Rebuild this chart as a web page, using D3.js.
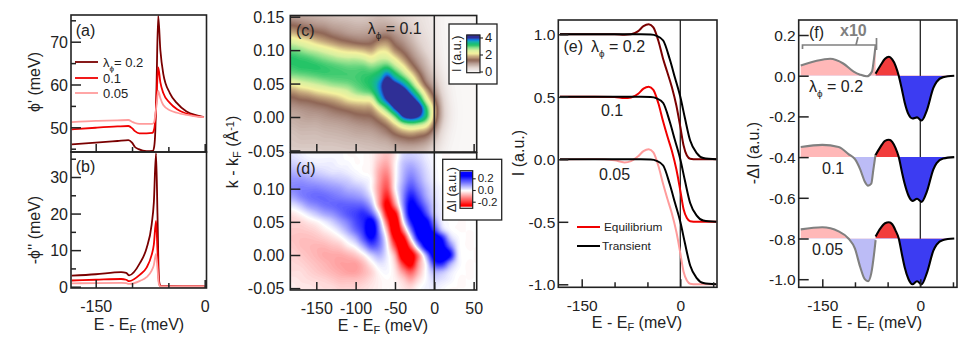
<!DOCTYPE html>
<html><head><meta charset="utf-8">
<script src="https://cdn.jsdelivr.net/npm/d3@7"></script>
<style>
html,body{margin:0;padding:0;background:#fff}
svg{display:block}
text{font-family:"Liberation Sans",Arial,sans-serif}
</style></head><body>
<svg id="c" width="969" height="346"></svg>
<script>
// ---------- data ----------
const lambdaLabels = ["0.2","0.1","0.05"];
const panelLabels = ["(a)","(b)","(c)","(d)","(e)","(f)"];

// (a) phi'
const aE02 = [-183,-150,-120,-105,-100,-96,-91,-80,-71.5,-69.5,-68,-66.5,-64,-61,-57,-48,-38.5,-25,-11,-1];
const a02  = [46,46.4,46.8,47,46.4,45.4,44.9,44.4,44.5,45.5,49,58,76,68,62.5,58,55.7,53.7,52.8,52.4];
const aE01 = [-183,-150,-120,-105,-100,-96,-90,-80,-72,-69.5,-67.5,-66,-64,-61,-57,-48,-38,-25,-11,-1];
const a01  = [49.5,49.9,50.2,50.3,49.8,49.1,48.6,48.6,48.7,49.6,53,58,64,60.5,58,55.7,54.2,53.2,52.6,52.4];
const aE005= [-183,-150,-120,-105,-100,-96,-90,-80,-72,-69.5,-67.5,-66,-64,-61,-57,-48,-38,-25,-11,-1];
const a005 = [51.2,51.5,51.6,51.7,51.3,51,50.8,50.8,50.8,51.3,53.5,55.5,58.5,56.8,55.2,54,53.4,52.9,52.5,52.4];

// (b) -phi''
const bE = [-183,-150,-115,-108,-104,-89,-80,-73,-70,-67,-65,-63,-61,-30,0];
const b02 = [3,3.4,4,3.8,3.1,6.5,10.5,17,23,36.5,20,2,0.2,0.1,0.1];
const b01 = [1.7,1.9,2.1,1.9,1.5,3.3,5.2,8.7,11.5,18,10,1.2,0.1,0.1,0.1];
const b005= [0.9,1,1.05,0.95,0.75,1.6,2.6,4.4,5.9,9,5,0.7,0.1,0.1,0.1];

// (c),(d) maps: energies and momenta of the cells
const mapE = [-180,-170,-160,-150,-140,-130,-120,-110,-100,-90,-80,-70,-60,-50,-40,-30,-20,-10,0,10,20,30,40,50];
const mapK = [.15,.1375,.125,.1125,.10,.0875,.075,.0625,.05,.0375,.025,.0125,0,-.0125,-.025,-.0375,-.05];
// intensity, one list per energy (top momentum first)
const intensityByE = [
[1.0,1.4,1.9,2.5,2.95,3.2,3.15,2.9,2.3,1.7,1.3,1.05,.9,.8,.7,.65,.6],
[.95,1.3,1.75,2.35,2.85,3.15,3.2,2.95,2.45,1.85,1.4,1.1,.95,.85,.75,.68,.6],
[.9,1.2,1.6,2.2,2.7,3.1,3.2,3.0,2.55,1.95,1.45,1.15,1.0,.85,.75,.68,.6],
[.85,1.1,1.5,2.0,2.6,3.0,3.2,3.05,2.65,2.1,1.55,1.2,1.0,.85,.75,.68,.6],
[.8,1.05,1.4,1.85,2.45,2.9,3.15,3.1,2.75,2.2,1.65,1.25,1.05,.9,.78,.7,.62],
[.75,.95,1.25,1.7,2.3,2.8,3.1,3.1,2.85,2.3,1.75,1.35,1.1,.92,.8,.7,.62],
[.7,.9,1.15,1.55,2.15,2.7,3.05,3.1,2.9,2.4,1.9,1.45,1.15,.95,.82,.72,.63],
[.68,.85,1.05,1.45,2.05,2.65,3.0,3.1,2.95,2.55,2.1,1.55,1.2,1.0,.85,.74,.65],
[.65,.8,1.0,1.35,2.0,2.65,3.0,3.1,3.05,2.8,2.2,1.65,1.3,1.05,.9,.75,.65],
[.65,.8,1.0,1.3,1.9,2.55,3.0,3.15,3.15,2.95,2.25,1.7,1.35,1.1,.92,.78,.68],
[.7,.85,1.05,1.35,1.8,2.35,2.9,3.2,3.3,3.1,2.35,1.75,1.4,1.15,.95,.8,.7],
[.75,.9,1.15,1.6,2.1,2.55,3.0,3.4,3.75,3.7,3.3,2.35,1.7,1.3,1.05,.85,.72],
[.7,.9,1.2,1.65,2.1,2.55,3.15,3.9,4.3,4.3,4.0,3.1,2.15,1.55,1.2,.9,.75],
[.62,.8,1.05,1.3,1.65,2.2,2.75,3.4,4.1,4.7,4.6,4.0,2.9,2.0,1.45,1.05,.8],
[.55,.65,.9,1.1,1.35,1.75,2.3,2.9,3.7,4.4,4.8,4.6,3.9,2.5,1.65,1.15,.85],
[.45,.55,.7,.85,1.05,1.3,1.7,2.3,3.0,3.75,4.4,4.7,4.2,2.7,1.75,1.2,.85],
[.35,.42,.5,.6,.75,.95,1.2,1.6,2.1,2.9,3.7,4.4,3.95,2.6,1.65,1.15,.8],
[.28,.3,.35,.42,.5,.65,.8,1.0,1.3,1.9,2.5,3.2,3.2,2.3,1.5,1.0,.7],
[.18,.2,.22,.25,.3,.38,.5,.65,.85,1.15,1.55,1.9,1.85,1.45,1.0,.68,.48],
[.08,.08,.09,.1,.12,.15,.2,.28,.38,.5,.65,.75,.75,.6,.42,.3,.2],
[.03,.03,.03,.04,.04,.05,.07,.09,.12,.16,.2,.24,.24,.2,.14,.1,.07],
[.01,.01,.01,.01,.01,.01,.02,.02,.03,.04,.05,.06,.06,.05,.04,.03,.02],
[0,0,0,0,0,0,0,0,0,.01,.01,.01,.01,.01,.01,0,0],
[0,0,0,0,0,0,0,0,0,0,0,0,0,0,0,0,0]];
// difference map, one list per momentum (E -180 first)
const diffByK = [
[.03,.02,.01,.01,.01,.01,.01,0,0,0,-.01,-.04,-.06,-.02,.04,.05,.04,.02,.01,0,0,0,0,0],
[.05,.04,.03,.02,.02,.02,.01,.01,0,0,-.01,-.06,-.08,-.01,.06,.08,.06,.03,.01,0,0,0,0,0],
[.08,.07,.06,.05,.04,.03,.03,.02,.01,0,-.01,-.08,-.11,-.01,.07,.11,.08,.04,.015,0,0,0,0,0],
[.11,.11,.10,.09,.08,.07,.06,.05,.03,.02,0,-.09,-.14,-.01,.08,.14,.1,.05,.02,0,0,0,0,0],
[.12,.13,.13,.13,.12,.11,.10,.08,.07,.05,0,-.1,-.17,-.01,.1,.18,.13,.07,.03,.01,0,0,0,0],
[.09,.12,.14,.15,.15,.14,.13,.12,.11,.09,.03,-.1,-.22,-.05,.11,.23,.17,.09,.04,.01,0,0,0,0],
[.03,.06,.10,.12,.14,.15,.16,.16,.16,.15,.08,-.09,-.27,-.12,.1,.27,.22,.13,.05,.015,0,0,0,0],
[-.02,0,.03,.06,.09,.11,.14,.17,.19,.21,.16,0,-.24,-.26,.05,.28,.28,.18,.06,.02,0,0,0,0],
[-.04,-.035,-.02,-.005,.02,.05,.09,.13,.18,.22,.28,.09,-.16,-.34,-.02,.22,.3,.27,.12,.02,.005,0,0,0],
[-.05,-.05,-.045,-.035,-.015,.005,.04,.09,.15,.21,.32,.13,-.08,-.34,-.14,.12,.3,.3,.2,.06,.01,0,0,0],
[-.055,-.06,-.06,-.055,-.045,-.03,-.01,.03,.08,.17,.25,.15,-.02,-.26,-.28,-.01,.24,.32,.32,.23,.06,.01,0,0],
[-.05,-.06,-.065,-.07,-.07,-.06,-.05,-.02,.01,.08,.16,.13,.01,-.17,-.34,-.16,.08,.28,.33,.28,.15,.02,0,0],
[-.04,-.05,-.06,-.07,-.08,-.08,-.08,-.07,-.05,-.01,.05,.08,.02,-.08,-.32,-.3,-.12,.1,.3,.33,.25,.03,.005,0],
[-.035,-.04,-.05,-.06,-.07,-.08,-.09,-.09,-.09,-.06,-.01,.03,.015,-.04,-.2,-.28,-.1,.02,.2,.22,.1,.02,0,0],
[-.03,-.03,-.04,-.05,-.06,-.07,-.08,-.09,-.09,-.07,-.04,0,.01,-.02,-.1,-.16,-.07,.01,.08,.07,.03,.005,0,0],
[-.02,-.025,-.03,-.035,-.04,-.05,-.06,-.06,-.06,-.05,-.03,-.01,0,-.01,-.04,-.08,-.03,.01,.04,.03,.015,0,0,0],
[-.015,-.02,-.02,-.025,-.03,-.03,-.04,-.04,-.04,-.03,-.02,-.01,0,-.005,-.02,-.03,0,.015,.02,.01,0,0,0,0]];
const intensityStops = [0,.5,1.0,1.4,1.8,2.2,2.55,2.85,3.2,3.55,3.8,4.02];
const intensityColors = ["#f9f7f6","#e2d5d1","#b89d93","#8f6656","#c4a67c","#f5f29f","#d8f0a0","#8fe08c","#1fc265","#12b3a5","#1080e8","#2f2f96"];

// (e) edges relative to their baseline
const eqE = [-183,-130,-100,-85,-75,-64,-56,-48,-41,-33.5,-26,-20,-13,-6,0,5,10,15,25,55];
const eq02 = [0,0,0,-.003,0,.025,.065,.08,.055,-.05,-.2,-.3,-.42,-.57,-.74,-.89,-.97,-.995,-1,-1];
const eq01 = [0,0,-.002,-.01,-.005,.025,.065,.08,.055,-.05,-.2,-.31,-.43,-.58,-.75,-.9,-.97,-.995,-1,-1];
const eq005= [0,.003,-.008,-.025,-.015,.025,.065,.08,.055,-.05,-.2,-.31,-.43,-.58,-.75,-.9,-.97,-.995,-1,-1];
const trE = [-183,-60,-45,-36,-26,-16,-8,0,7,15,25,35,55];
const tr  = [0,0,-.002,-.012,-.05,-.2,-.35,-.5,-.67,-.85,-.95,-.99,-1];

// (f)
const fBlackE = [-68.4,-61,-54,-48,-43,-38,-33,-28,-24,-18,-12,-5,2,10,20,25,35,52];
const fBlack02 = [.01,.05,.083,.093,.08,.05,0,-.07,-.13,-.19,-.21,-.205,-.22,-.17,-.06,-.03,-.007,0];
const fBlack01 = [.01,.05,.08,.085,.075,.045,0,-.075,-.13,-.19,-.215,-.205,-.22,-.17,-.06,-.03,-.007,0];
const fBlack005= [.01,.05,.075,.08,.07,.04,0,-.08,-.14,-.2,-.225,-.21,-.225,-.17,-.06,-.03,-.007,0];
const fGrey02E = [-183,-160,-138,-118,-102,-92,-82,-74,-71,-68.4];
const fGrey02  = [.05,.072,.083,.06,.02,.005,-.003,.02,.08,.15];
const fGrey01E = [-183,-150,-125,-110,-100,-92,-85,-80,-75,-72,-68.4];
const fGrey01  = [.05,.06,.05,.015,-.01,-.06,-.12,-.14,-.13,-.065,.015];
const fGrey005E= [-183,-150,-125,-110,-100,-92,-85,-80,-75,-70,-68.4];
const fGrey005 = [.045,.055,.035,0,-.05,-.14,-.2,-.21,-.17,-.055,-.008];
const fBases = [0,-.4,-.8];

// tick labels
const xMajor = [-150,0];
const xMinor = [-100,-50];
const aTicks = [50,60,70], aMinor = [45,55,65,75];
const bTicks = [0,10,20,30], bMinor = [5,15,25,35];
const cTicks = [-.05,0,.05,.10,.15];
const dTicks = [-.05,0,.05,.10];
const mapXTicks = [-150,-100,-50,0,50];
const eTicks = [-1,-.5,0,.5,1];
const fTicks = [-1,-.8,-.6,-.4,-.2,0,.2];
const barCTicks = [0,2,4];
const barDTicks = [-.2,0,.2];

// ---------- drawing ----------
const svg = d3.select("#c");
const INK = "#222", DARK="#7a0000", RED="#f00000", PINK="#ff9c9c", GREY="#808080";
const hy = f => v => f(v).replace("\u2212","-");
let clipId = 0;
function panel(f, xCal, yCal){
  const x = d3.scaleLinear().domain(xCal[0]).range(xCal[1]);
  const y = d3.scaleLinear().domain(yCal[0]).range(yCal[1]);
  const id = "clip"+(clipId++);
  svg.append("clipPath").attr("id",id).append("rect")
    .attr("x",f.l).attr("y",f.t).attr("width",f.r-f.l).attr("height",f.b-f.t);
  const g = svg.append("g").attr("clip-path",`url(#${id})`);
  return {x,y,g,f,id};
}
function frame(p){
  const f=p.f;
  svg.append("rect").attr("x",f.l).attr("y",f.t).attr("width",f.r-f.l).attr("height",f.b-f.t)
    .attr("fill","none").attr("stroke",INK).attr("stroke-width",1.6);
}
function axes(p,o){
  const f=p.f;
  const fs=o.fs||16;
  const style=(g)=>{
    g.select(".domain").remove();
    g.selectAll("line").attr("stroke",INK).attr("stroke-width",1.5);
    g.selectAll("text").attr("font-size",fs).attr("fill",INK).style("font-family",'"Liberation Sans",Arial,sans-serif');
  };
  const gl=svg.append("g").attr("transform",`translate(${f.l},0)`)
    .call(d3.axisLeft(p.y).tickValues(o.yt).tickSize(-(o.ys||10)).tickPadding(o.yp||3).tickFormat(hy(o.yf)));
  style(gl); gl.selectAll(".tick text").attr("dy","0.36em");
  if(o.ym){
    const gm=svg.append("g").attr("transform",`translate(${f.l},0)`)
      .call(d3.axisLeft(p.y).tickValues(o.ym).tickSize(-5).tickFormat(""));
    style(gm);
  }
  const gb=svg.append("g").attr("transform",`translate(0,${f.b})`)
    .call(d3.axisBottom(p.x).tickValues(o.xt).tickSize(-(o.xs||8)).tickPadding(o.xp||13).tickFormat(o.xlabels===false?"":hy(d3.format("d"))));
  style(gb);
  if(o.xm){
    const gm=svg.append("g").attr("transform",`translate(0,${f.b})`)
      .call(d3.axisBottom(p.x).tickValues(o.xm).tickSize(-5).tickFormat(""));
    style(gm);
  }
}
function label(t,x,y,o={}){
  const s=svg.append("text").attr("x",x).attr("y",y).attr("font-size",o.fs||16)
    .attr("fill",o.fill||INK).attr("text-anchor",o.anchor||"start").text(t);
  if(o.rot!=null) s.attr("transform",`rotate(${o.rot} ${x} ${y})`);
  if(o.bold) s.attr("font-weight","bold");
  return s;
}
function eLabel(x,y){
  const s=label("E - E",x,y,{anchor:"middle"});
  s.append("tspan").attr("font-size",11).attr("dy",3).text("F");
  s.append("tspan").attr("dy",-3).text(" (meV)");
}
function lambda(x,y,val,fs=16,gap=" "){
  const s=label("λ",x,y,{fs});
  s.append("tspan").attr("font-size",fs*.62).attr("dy",fs*.3).text("ϕ");
  s.append("tspan").attr("dy",-fs*.3).text(gap+"= "+val);
}
function line(p,xs,ys,color,w=1.8,off=0){
  const gen=d3.line().x(i=>p.x(xs[i])).y(i=>p.y(ys[i]+off)).curve(d3.curveMonotoneX);
  p.g.append("path").attr("d",gen(d3.range(xs.length))).attr("fill","none")
    .attr("stroke",color).attr("stroke-width",w).attr("stroke-linejoin","round");
}

// --- (a)
const pa=panel({l:71,r:206.5,t:15,b:152},[[-150,0],[95.7,204.7]],[[50,70],[127.3,41.7]]);
line(pa,aE02,a02,DARK); line(pa,aE01,a01,RED); line(pa,aE005,a005,PINK);
axes(pa,{yt:aTicks,ym:aMinor,yf:d3.format("d"),xt:xMajor,xm:xMinor,xlabels:false});
frame(pa);
label("(a)",75.7,36);
[[DARK,62],[RED,78],[PINK,93]].forEach(([c,y])=>svg.append("line").attr("x1",75).attr("x2",98).attr("y1",y).attr("y2",y).attr("stroke",c).attr("stroke-width",1.8));
lambda(103,67,lambdaLabels[0],13,"");
label(lambdaLabels[1],103,83,{fs:13});
label(lambdaLabels[2],103,98,{fs:13});
label("ϕ' (meV)",40,82,{rot:-90,anchor:"middle"});

// --- (b)
const pb=panel({l:71,r:206.5,t:152,b:288},[[-150,0],[95.7,204.7]],[[0,30],[286.7,177]]);
line(pb,bE,b02,DARK); line(pb,bE,b01,RED); line(pb,bE,b005,PINK);
axes(pb,{yt:bTicks,ym:bMinor,yf:d3.format("d"),xt:xMajor,xm:xMinor});
frame(pb);
label("(b)",75.7,171.7);
label("-ϕ'' (meV)",40,230,{rot:-90,anchor:"middle"});
eLabel(139,330);

// --- maps: smooth the cell grid for display and draw filled iso-bands with d3.contours
function upsample(rows,n){
  const R=rows.length,C=rows[0].length;
  const at=(j,i)=>rows[Math.max(0,Math.min(R-1,j))][Math.max(0,Math.min(C-1,i))];
  const cr=(a,b,c,d,t)=>0.5*(2*b+(c-a)*t+(2*a-5*b+4*c-d)*t*t+(3*b-a-3*c+d)*t*t*t);
  const W=(C+1)*n+1,H=(R+1)*n+1,vals=new Float64Array(W*H);
  for(let jj=0;jj<H;jj++){
    const v=jj/n-1,j0=Math.floor(v),ty=v-j0;
    for(let ii=0;ii<W;ii++){
      const u=ii/n-1,i0=Math.floor(u),tx=u-i0;
      const col=[-1,0,1,2].map(dj=>cr(at(j0+dj,i0-1),at(j0+dj,i0),at(j0+dj,i0+1),at(j0+dj,i0+2),tx));
      vals[jj*W+ii]=cr(col[0],col[1],col[2],col[3],ty);
    }
  }
  return {W,H,vals};
}
function drawMap(p,rows,thresholds,color,base){
  const n=4,{W,H,vals}=upsample(rows,n);
  const dE=mapE[1]-mapE[0],dK=mapK[1]-mapK[0];
  const px=d3.geoTransform({point(cx,cy){
    const E=mapE[0]+((cx-.5)/n-1)*dE, K=mapK[0]+((cy-.5)/n-1)*dK;
    this.stream.point(p.x(E),p.y(K));
  }});
  const path=d3.geoPath(px);
  p.g.append("rect").attr("x",p.f.l).attr("y",p.f.t).attr("width",p.f.r-p.f.l).attr("height",p.f.b-p.f.t).attr("fill",base);
  const cs=d3.contours().size([W,H]).smooth(true).thresholds(thresholds)(Array.from(vals));
  p.g.selectAll(null).data(cs).join("path").attr("d",path).attr("fill",d=>color(d.value));
}
const intensityColor=d3.scaleLinear().domain(intensityStops).range(intensityColors).interpolate(d3.interpolateRgb).clamp(true);
const diffColor=d3.scaleLinear().domain([-.25,0,.25]).range(["#ff0000","#ffffff","#0000ff"]).clamp(true);

const pc=panel({l:290.3,r:476.7,t:15.5,b:152},[[-150,0],[316.3,434.3]],[[0,.15],[117,16.7]]);
drawMap(pc,d3.transpose(intensityByE),d3.range(0.02,4.1,.04),intensityColor,"#f9f7f6");
pc.g.append("line").attr("x1",pc.x(0)).attr("x2",pc.x(0)).attr("y1",pc.f.t).attr("y2",pc.f.b).attr("stroke",INK).attr("stroke-width",1.5);
axes(pc,{yt:cTicks,yf:d3.format(".2f"),yp:6,xt:mapXTicks.filter(d=>d!=0),xlabels:false});
frame(pc);
label("(c)",296,36);
lambda(367.7,34,"0.1",16);

const pd=panel({l:290.3,r:476.7,t:152.7,b:290},[[-150,0],[316.3,434.3]],[[0,.10],[255,188.7]]);
drawMap(pd,diffByK,d3.range(-.27,.27,.006),diffColor,"#ff0000");
pd.g.append("line").attr("x1",pd.x(0)).attr("x2",pd.x(0)).attr("y1",pd.f.t).attr("y2",pd.f.b).attr("stroke",INK).attr("stroke-width",1.5);
axes(pd,{yt:dTicks,yf:d3.format(".2f"),yp:6,xt:mapXTicks,xlabels:true});
frame(pd);
label("(d)",296,174);
eLabel(383,331);
{
  const s=label("k - k",238,152,{rot:-90,anchor:"middle"});
  s.append("tspan").attr("font-size",11).attr("dy",3).text("F");
  s.append("tspan").attr("dy",-3).text(" (Å");
  s.append("tspan").attr("font-size",11).attr("dy",-4).text("-1");
  s.append("tspan").attr("dy",4).text(")");
}

// colour-bar insets
function colorbar(box,bar,ticks,scale,color,domain,fmt,fs,title,tx){
  svg.append("rect").attr("x",box[0]).attr("y",box[2]).attr("width",box[1]-box[0]).attr("height",box[3]-box[2])
    .attr("fill","#fff").attr("stroke",INK).attr("stroke-width",1.3);
  const vals=d3.range(0,64).map(i=>domain[0]+(domain[1]-domain[0])*i/63);
  const h=(bar[3]-bar[2])/64;
  svg.append("g").selectAll("rect").data(vals).join("rect")
    .attr("x",bar[0]).attr("width",bar[1]-bar[0])
    .attr("y",d=>scale(d)-h/2).attr("height",h+.6).attr("fill",d=>color(d));
  svg.append("rect").attr("x",bar[0]).attr("y",bar[2]).attr("width",bar[1]-bar[0]).attr("height",bar[3]-bar[2])
    .attr("fill","none").attr("stroke",INK).attr("stroke-width",1.2);
  const a=svg.append("g").attr("transform",`translate(${bar[1]},0)`)
    .call(d3.axisRight(scale).tickValues(ticks).tickSize(3).tickPadding(2).tickFormat(hy(fmt)));
  a.select(".domain").remove();
  a.selectAll("line").attr("stroke",INK).attr("stroke-width",1.1);
  a.selectAll("text").attr("font-size",fs).attr("fill",INK).style("font-family",'"Liberation Sans",Arial,sans-serif');
  label(title,tx,(bar[2]+bar[3])/2,{fs:12.6,rot:-90,anchor:"middle"});
}
colorbar([449,497,24,84],[466.7,480,35,72.7],barCTicks,
  d3.scaleLinear().domain([0,4]).range([71.5,37.5]),intensityColor,[-.1,4.3],d3.format("d"),13,"I (a.u.)",461);
colorbar([442.7,501.7,159.3,220],[460,472.7,170.7,208.3],barDTicks,
  d3.scaleLinear().domain([-.2,.2]).range([201.7,178.3]),diffColor,[-.27,.31],d3.format(".1f"),11.5,"ΔI (a.u.)",456);

// --- (e)
const pe=panel({l:558.3,r:717,t:20,b:287.3},[[-150,0],[581.7,680.3]],[[0,1],[159.3,34.3]]);
pe.g.append("line").attr("x1",pe.x(0)).attr("x2",pe.x(0)).attr("y1",20).attr("y2",287.3).attr("stroke",INK).attr("stroke-width",1.3);
[[eq02,DARK],[eq01,RED],[eq005,PINK]].forEach(([ys,c],i)=>{
  line(pe,eqE,ys,c,2,[1,.5,0][i]);
});
[1,.5,0].forEach(b=>line(pe,trE,tr,"#000",2,b));
axes(pe,{fs:15.5,yt:eTicks,yf:d3.format(".1f"),xt:xMajor,xm:[-100,-50,50]});
frame(pe);
label("(e)",563.5,52);
lambda(591,52,lambdaLabels[0],16);
label(lambdaLabels[1],601,116);
label(lambdaLabels[2],599,180);
svg.append("line").attr("x1",577).attr("x2",600).attr("y1",227).attr("y2",227).attr("stroke",RED).attr("stroke-width",2);
svg.append("line").attr("x1",577).attr("x2",600).attr("y1",246).attr("y2",246).attr("stroke","#000").attr("stroke-width",2);
label("Equilibrium",604,231,{fs:11.8});
label("Transient",602,250,{fs:11.8});
label("I (a.u.)",524,153,{rot:-90,anchor:"middle"});
eLabel(637,328);

// --- (f)
const pf=panel({l:798.7,r:957,t:20,b:287.3},[[-150,0],[822.3,920.3]],[[0,.2],[75.7,35]]);
pf.g.append("line").attr("x1",pf.x(0)).attr("x2",pf.x(0)).attr("y1",20).attr("y2",287.3).attr("stroke",INK).attr("stroke-width",1.3);
function signedFill(xs,ys,base,up,down){
  const idx=d3.range(xs.length);
  const full=d3.area().x(i=>pf.x(xs[i])).y0(pf.y(base)).y1(i=>pf.y(ys[i]+base)).curve(d3.curveMonotoneX);
  const d=full(idx);
  const yb=pf.y(base);
  const id="f"+(clipId++);
  const cp=svg.append("clipPath").attr("id",id);
  cp.append("rect").attr("x",pf.f.l).attr("y",yb-100).attr("width",pf.f.r-pf.f.l).attr("height",100);
  pf.g.append("path").attr("d",d).attr("fill",up).attr("clip-path",`url(#${id})`);
  const id2="f"+(clipId++);
  const cp2=svg.append("clipPath").attr("id",id2);
  cp2.append("rect").attr("x",pf.f.l).attr("y",yb).attr("width",pf.f.r-pf.f.l).attr("height",100);
  pf.g.append("path").attr("d",d).attr("fill",down).attr("clip-path",`url(#${id2})`);
}
[[fGrey02E,fGrey02,fBlack02],[fGrey01E,fGrey01,fBlack01],[fGrey005E,fGrey005,fBlack005]].forEach(([ge,gv,bv],i)=>{
  const base=fBases[i];
  signedFill(ge,gv,base,"#ffb8b8","#bcbcf6");
  signedFill(fBlackE,bv,base,"#f23c3c","#3c3cf2");
  line(pf,ge,gv,GREY,2.1,base);
  line(pf,fBlackE,bv,"#000",2.1,base);
});
axes(pf,{fs:15.5,yt:fTicks,yf:d3.format(".1f"),xt:xMajor,xm:[-100,-50,50]});
frame(pf);
label("(f)",809,38);
label("x10",840,36,{bold:true,fill:GREY});
svg.append("path").attr("d","M802.5,49V45H876.5M876.5,38V50M858,37L856,45").attr("fill","none").attr("stroke",GREY).attr("stroke-width",1.7);
lambda(809,92,lambdaLabels[0],16);
label(lambdaLabels[1],822,174);
label(lambdaLabels[2],812,255);
label("-ΔI (a.u.)",759,153,{rot:-90,anchor:"middle"});
eLabel(877,328);
</script>
</body></html>
